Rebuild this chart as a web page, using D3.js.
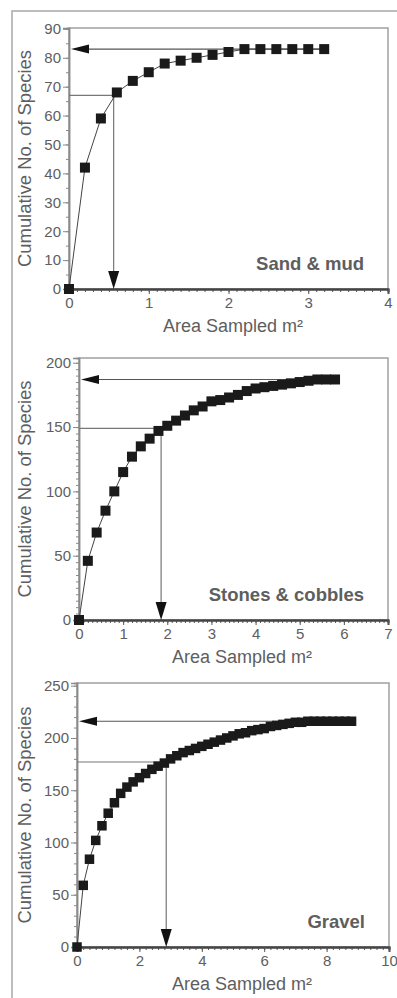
<!DOCTYPE html>
<html>
<head>
<meta charset="utf-8">
<script src="https://cdnjs.cloudflare.com/ajax/libs/d3/7.8.5/d3.min.js"></script>
<style>
  body { margin: 0; background: #fff; }
  text { font-family: "Liberation Sans", Arial, sans-serif; fill: #5e5e5e; }
</style>
</head>
<body>
<div id="chart"></div>
<script>
// Sand & mud
var sandArea = [0, 0.2, 0.4, 0.6, 0.8, 1.0, 1.2, 1.4, 1.6, 1.8, 2.0, 2.2, 2.4, 2.6, 2.8, 3.0, 3.2];
var sandSpecies = [0, 42, 59, 68, 72, 75, 78, 79, 80, 81, 82, 83, 83, 83, 83, 83, 83];
var sandXTicks = [0, 1, 2, 3, 4];
var sandYTicks = [0, 10, 20, 30, 40, 50, 60, 70, 80, 90];
var sandTotal = 83;
var sandGuide = [0.56, 67];

// Stones & cobbles
var stonesArea = [0, 0.2, 0.4, 0.6, 0.8, 1.0, 1.2, 1.4, 1.6, 1.8, 2.0, 2.2, 2.4, 2.6, 2.8,
  3.0, 3.2, 3.4, 3.6, 3.8, 4.0, 4.2, 4.4, 4.6, 4.8, 5.0, 5.2, 5.4, 5.6, 5.8];
var stonesSpecies = [0, 46, 68, 85, 100, 115, 127, 135, 141, 147, 151, 155, 159, 163, 166,
  170, 171, 173, 175, 178, 180, 181, 182, 183, 184, 185, 186, 187, 187, 187];
var stonesXTicks = [0, 1, 2, 3, 4, 5, 6, 7];
var stonesYTicks = [0, 50, 100, 150, 200];
var stonesTotal = 187;
var stonesGuide = [1.86, 149];

// Gravel
var gravelArea = [0, 0.2, 0.4, 0.6, 0.8, 1.0, 1.2, 1.4, 1.6, 1.8, 2.0, 2.2, 2.4, 2.6, 2.8,
  3.0, 3.2, 3.4, 3.6, 3.8, 4.0, 4.2, 4.4, 4.6, 4.8, 5.0, 5.2, 5.4, 5.6, 5.8,
  6.0, 6.2, 6.4, 6.6, 6.8, 7.0, 7.2, 7.4, 7.6, 7.8, 8.0, 8.2, 8.4, 8.6, 8.8];
var gravelSpecies = [0, 59, 84, 102, 116, 128, 138, 147, 153, 158, 162, 166, 170, 173, 176,
  180, 183, 186, 188, 190, 192, 194, 196, 198, 200, 202, 204, 205, 207, 208,
  209, 211, 212, 213, 214, 215, 215, 216, 216, 216, 216, 216, 216, 216, 216];
var gravelXTicks = [0, 2, 4, 6, 8, 10];
var gravelYTicks = [0, 50, 100, 150, 200, 250];
var gravelTotal = 216;
var gravelGuide = [2.86, 177];

var svgWidth = 397;
var svgHeight = 998;

var svg = d3.select("#chart")
  .append("svg")
  .attr("width", svgWidth)
  .attr("height", svgHeight);

// outer box (only left and top edges show)
svg.append("path")
  .attr("d", "M12,998 V11 H397")
  .attr("fill", "none")
  .attr("stroke", "#a8a8a8")
  .attr("stroke-width", 1.5);

var panels = [
  { name: "Sand & mud", area: sandArea, species: sandSpecies, xTicks: sandXTicks, yTicks: sandYTicks,
    total: sandTotal, guide: sandGuide, xMax: 4, yTop: 90.3, xMinor: 0.1, yMinor: 5,
    left: 69, top: 28, right: 388, bottom: 289, titleX: 233, size: 10 },
  { name: "Stones & cobbles", area: stonesArea, species: stonesSpecies, xTicks: stonesXTicks, yTicks: stonesYTicks,
    total: stonesTotal, guide: stonesGuide, xMax: 7, yTop: 203.7, xMinor: 0.1, yMinor: 5,
    left: 79, top: 358, right: 388, bottom: 620, titleX: 242, size: 10 },
  { name: "Gravel", area: gravelArea, species: gravelSpecies, xTicks: gravelXTicks, yTicks: gravelYTicks,
    total: gravelTotal, guide: gravelGuide, xMax: 10, yTop: 252.6, xMinor: 0.2, yMinor: 10,
    left: 77, top: 683, right: 389, bottom: 947, titleX: 242, size: 9.5 }
];

panels.forEach(drawPanel);

function drawPanel(p) {
  var g = svg.append("g");

  // Creating Scale Functions
  var x = d3.scaleLinear().domain([0, p.xMax]).range([p.left, p.right]);
  var y = d3.scaleLinear().domain([0, p.yTop]).range([p.bottom, p.top]);

  // frame
  g.append("rect")
    .attr("x", p.left)
    .attr("y", p.top)
    .attr("width", p.right - p.left)
    .attr("height", p.bottom - p.top)
    .attr("fill", "none")
    .attr("stroke", "#a0a0a0")
    .attr("stroke-width", 1.5);

  // y axis: minor then major ticks
  var yMinorTicks = d3.range(0, d3.max(p.yTicks) + 0.001, p.yMinor);
  var yMinorAxis = g.append("g")
    .attr("transform", `translate(${p.left},0)`)
    .call(d3.axisLeft(y).tickValues(yMinorTicks).tickSize(3).tickFormat(""));
  var yAxis = g.append("g")
    .attr("transform", `translate(${p.left},0)`)
    .call(d3.axisLeft(y).tickValues(p.yTicks).tickSize(6).tickPadding(2).tickFormat(d3.format("d")));
  yAxis.selectAll("text").style("font-size", "15px").attr("fill", "#5e5e5e");
  [yMinorAxis, yAxis].forEach(function(a) {
    a.select(".domain").attr("stroke", "#8a8a8a").attr("stroke-width", 1.5);
    a.selectAll(".tick line").attr("stroke", "#8a8a8a");
  });

  // x axis
  var xMinorTicks = d3.range(0, p.xMax + 0.001, p.xMinor);
  var xMinorAxis = g.append("g")
    .attr("transform", `translate(0,${p.bottom})`)
    .call(d3.axisBottom(x).tickValues(xMinorTicks).tickSize(3).tickFormat(""));
  var xAxis = g.append("g")
    .attr("transform", `translate(0,${p.bottom})`)
    .call(d3.axisBottom(x).tickValues(p.xTicks).tickSize(5).tickPadding(3).tickFormat(d3.format("d")));
  xAxis.selectAll("text").style("font-size", "15px").attr("fill", "#5e5e5e");
  [xMinorAxis, xAxis].forEach(function(a) {
    a.select(".domain").attr("stroke", "#444").attr("stroke-width", 2);
    a.selectAll(".tick line").attr("stroke", "#555");
  });

  // guide lines and arrows
  var gx = x(p.guide[0]), gy = y(p.guide[1]);
  g.append("path")
    .attr("d", `M${p.left},${gy} H${gx} V${p.bottom - 16}`)
    .attr("fill", "none")
    .attr("stroke", "#777")
    .attr("stroke-width", 1.2);
  g.append("path")
    .attr("d", `M${gx},${p.bottom} L${gx - 5.5},${p.bottom - 18} L${gx + 5.5},${p.bottom - 18} Z`)
    .attr("fill", "#111");

  var ty = y(p.total);
  var lastX = x(p.area[p.area.length - 1]);
  g.append("path")
    .attr("d", `M${lastX},${ty} H${p.left + 18}`)
    .attr("stroke", "#555")
    .attr("stroke-width", 1.2);
  g.append("path")
    .attr("d", `M${p.left + 2},${ty} L${p.left + 20},${ty - 4.5} L${p.left + 20},${ty + 4.5} Z`)
    .attr("fill", "#111");

  // Creating the curve
  var line = d3.line()
    .x(function(d, i) { return x(p.area[i]); })
    .y(function(d) { return y(d); });
  g.append("path")
    .datum(p.species)
    .attr("d", line)
    .attr("fill", "none")
    .attr("stroke", "#444")
    .attr("stroke-width", 1);

  // Creating Squares
  g.selectAll("rect.pt")
    .data(p.species)
    .enter()
    .append("rect")
    .attr("class", "pt")
    .attr("x", function(d, i) { return x(p.area[i]) - p.size / 2; })
    .attr("y", function(d) { return y(d) - p.size / 2; })
    .attr("width", p.size)
    .attr("height", p.size)
    .attr("fill", "#1a1a1a");

  // habitat label
  g.append("text")
    .attr("x", p.right - 24)
    .attr("y", p.bottom - 19)
    .attr("text-anchor", "end")
    .style("font-size", "18.5px")
    .style("font-weight", "bold")
    .attr("fill", "#7a7a7a")
    .text(p.name);

  // axes labels
  g.append("text")
    .attr("x", p.titleX)
    .attr("y", p.bottom + 43)
    .attr("text-anchor", "middle")
    .attr("textLength", 140)
    .attr("lengthAdjust", "spacingAndGlyphs")
    .style("font-size", "18px")
    .text("Area Sampled m²");

  g.append("text")
    .attr("transform", `translate(31, ${(p.top + p.bottom) / 2}) rotate(-90)`)
    .attr("text-anchor", "middle")
    .attr("textLength", 217)
    .attr("lengthAdjust", "spacingAndGlyphs")
    .style("font-size", "18px")
    .text("Cumulative No. of Species");
}
</script>
</body>
</html>
